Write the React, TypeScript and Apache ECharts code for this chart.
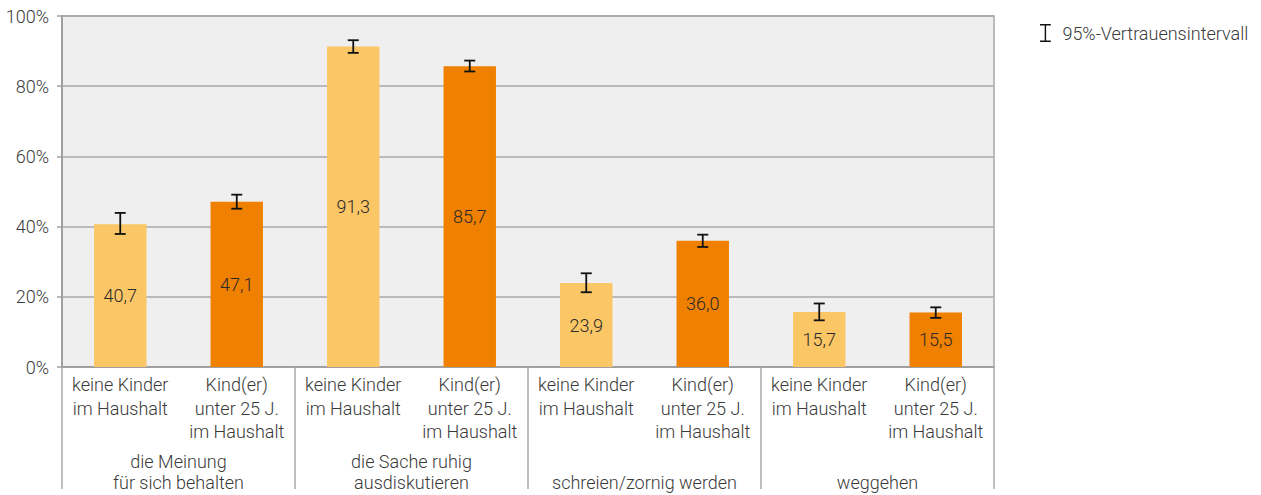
import React, { useEffect, useRef } from "react";
import * as echarts from "echarts";

const categories = [
  "keine Kinder\nim Haushalt",
  "Kind(er)\nunter 25 J.\nim Haushalt",
  "keine Kinder\nim Haushalt",
  "Kind(er)\nunter 25 J.\nim Haushalt",
  "keine Kinder\nim Haushalt",
  "Kind(er)\nunter 25 J.\nim Haushalt",
  "keine Kinder\nim Haushalt",
  "Kind(er)\nunter 25 J.\nim Haushalt",
];
const groups = [
  "die Meinung\nfür sich behalten",
  "die Sache ruhig\nausdiskutieren",
  "schreien/zornig werden",
  "weggehen",
];
const values = [40.7, 47.1, 91.3, 85.7, 23.9, 36.0, 15.7, 15.5];
const ciLow = [37.9, 45.1, 89.5, 84.2, 21.3, 34.2, 13.3, 14.0];
const ciHigh = [43.9, 49.1, 93.1, 87.3, 26.7, 37.7, 18.1, 17.0];
const yTicks = [0, 20, 40, 60, 80, 100];
const legendName = "95%-Vertrauensintervall";

const LIGHT = "#FBC665";
const DARK = "#F08000";
const FONT = "Roboto";
const FS = 18;
const TXT = "#3a3a3a";
const FW = 300;

export default function App() {
  const ref = useRef<HTMLDivElement>(null);
  useEffect(() => {
    if (!ref.current) return;
    const chart = echarts.init(ref.current, undefined, { renderer: "svg" });
    const option: any = {
      animation: false,
      textStyle: { fontFamily: FONT },
      grid: {
        left: 62,
        right: 267,
        top: 16,
        bottom: 128,
        show: true,
        backgroundColor: "#efefef",
        borderColor: "#a8a8a8",
        borderWidth: 1.5,
      },
      legend: {
        left: 1035,
        top: 19,
        itemWidth: 12,
        itemHeight: 18,
        data: [
          {
            name: legendName,
            icon: "path://M0,0H12V1.6H6.8V18.4H12V20H0V18.4H5.2V1.6H0Z",
          },
        ],
        textStyle: { fontSize: FS, color: TXT, fontWeight: FW, fontFamily: FONT, padding: [0, 0, 0, 6] },
      },
      xAxis: [
        {
          type: "category",
          data: categories,
          position: "bottom",
          axisLine: { show: true, lineStyle: { color: "#a0a0a0", width: 2 } },
          axisTick: { show: false },
          axisLabel: {
            interval: 0,
            margin: 6,
            fontSize: FS,
            fontWeight: FW,
            lineHeight: 23.5,
            color: TXT,
            fontFamily: FONT,
            verticalAlign: "top",
          },
        },
        {
          type: "category",
          data: groups,
          position: "bottom",
          axisLine: { show: false },
          axisTick: {
            show: true,
            length: 122,
            lineStyle: { color: "#a8a8a8", width: 1.5 },
          },
          axisLabel: {
            interval: 0,
            margin: 126,
            fontSize: FS,
            fontWeight: FW,
            lineHeight: 21,
            color: TXT,
            fontFamily: FONT,
            verticalAlign: "bottom",
          },
        },
      ],
      yAxis: {
        type: "value",
        min: yTicks[0],
        max: yTicks[yTicks.length - 1],
        interval: 20,
        axisLine: { show: true, lineStyle: { color: "#a0a0a0", width: 2 } },
        axisTick: { show: true, length: 5, lineStyle: { color: "#a0a0a0", width: 1.5 } },
        splitLine: { show: true, lineStyle: { color: "#a8a8a8", width: 1.5 } },
        axisLabel: {
          formatter: "{value}%",
          fontSize: FS,
          fontWeight: FW,
          color: TXT,
          margin: 13,
          fontFamily: FONT,
        },
      },
      series: [
        {
          type: "bar",
          xAxisIndex: 0,
          barWidth: "45%",
          data: values.map((v, i) => ({
            value: v,
            itemStyle: { color: i % 2 === 0 ? LIGHT : DARK },
          })),
          label: {
            show: true,
            position: "inside",
            fontSize: FS,
            fontWeight: FW,
            color: "#2a2a2a",
            fontFamily: FONT,
            formatter: (p: any) => p.value.toFixed(1).replace(".", ","),
          },
        },
        {
          type: "custom",
          name: legendName,
          xAxisIndex: 0,
          itemStyle: { color: "#111" },
          data: values.map((_, i) => [i, ciLow[i], ciHigh[i]]),
          renderItem: (params: any, api: any) => {
            const x = api.value(0);
            const lo = api.coord([x, api.value(1)]);
            const hi = api.coord([x, api.value(2)]);
            const half = 5.5;
            const style = { stroke: "#111", lineWidth: 1.8, fill: "none" };
            return {
              type: "group",
              children: [
                { type: "line", shape: { x1: lo[0], y1: lo[1], x2: hi[0], y2: hi[1] }, style },
                { type: "line", shape: { x1: hi[0] - half, y1: hi[1], x2: hi[0] + half, y2: hi[1] }, style },
                { type: "line", shape: { x1: lo[0] - half, y1: lo[1], x2: lo[0] + half, y2: lo[1] }, style },
              ],
            };
          },
          z: 5,
        },
      ],
    };
    chart.setOption(option);
    return () => chart.dispose();
  }, []);
  return (
    <div
      ref={ref}
      style={{ position: "fixed", left: 0, top: 0, width: 1261, height: 495, background: "#fff" }}
    />
  );
}
